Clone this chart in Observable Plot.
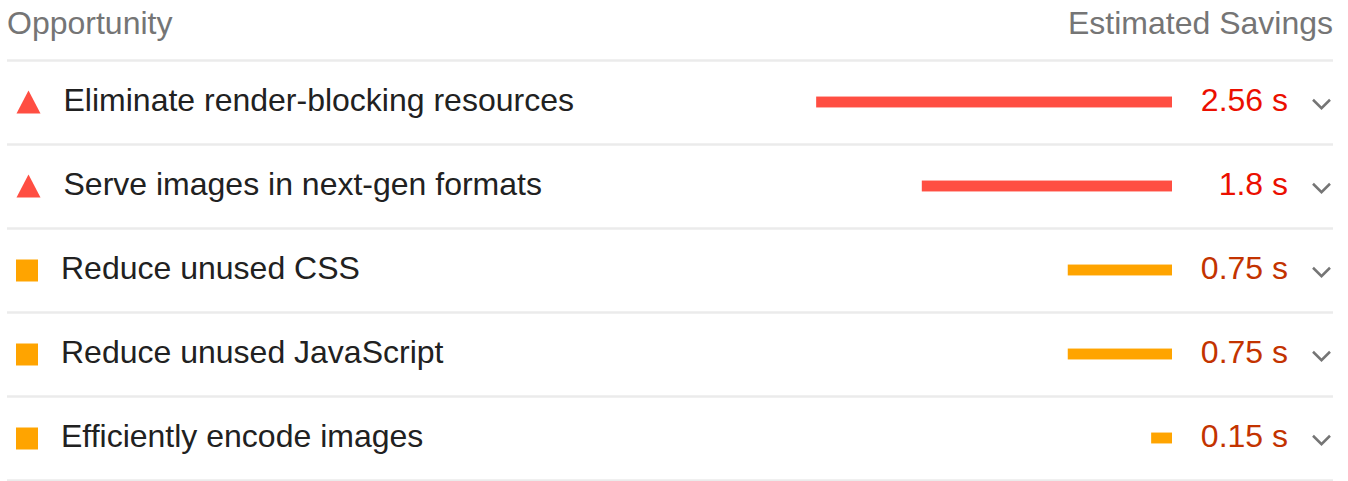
<!DOCTYPE html>
<html>
<head>
<meta charset="utf-8">
<script src="https://cdn.jsdelivr.net/npm/d3@7"></script>
<script src="https://cdn.jsdelivr.net/npm/@observablehq/plot@0.6"></script>
<style>
  html, body { margin: 0; padding: 0; background: #fff; }
  body { width: 1348px; height: 481px; overflow: hidden; font-family: "Liberation Sans", Arial, Helvetica, sans-serif; }
  #header { position: relative; height: 59px; width: 1348px; }
  #header span { position: absolute; top: 7px; font-size: 32px; line-height: 32px; color: #757575; white-space: nowrap; }
  #header .left { left: 7px; }
  #header .right { right: 15px; }
  #chart svg { display: block; }
</style>
</head>
<body>
<div id="header">
  <span class="left" id="hLeft"></span>
  <span class="right" id="hRight"></span>
</div>
<div id="chart"></div>
<script>
// ---- data ----
const headerLabels = ["Opportunity", "Estimated Savings"];
const audits = [
  "Eliminate render-blocking resources",
  "Serve images in next-gen formats",
  "Reduce unused CSS",
  "Reduce unused JavaScript",
  "Efficiently encode images"
];
const savings = [2.56, 1.8, 0.75, 0.75, 0.15]; // seconds
const ratings = ["fail", "fail", "average", "average", "average"];
const unit = "s";

// ---- styles ----
const barColor = {fail: "#ff4e42", average: "#ffa400"};
const textColor = {fail: "#eb0f00", average: "#c33300"};
const font = '"Liberation Sans", Arial, Helvetica, sans-serif';

document.getElementById("hLeft").textContent = headerLabels[0];
document.getElementById("hRight").textContent = headerLabels[1];

const rows = audits.map((a, i) => ({audit: a, value: savings[i], rating: ratings[i]}));
const failRows = rows.filter(d => d.rating === "fail");
const avgRows = rows.filter(d => d.rating === "average");

// custom symbols
const triangleSym = {draw(ctx, size) {
  const s = Math.sqrt(size / Math.PI);
  ctx.moveTo(0, -s * 0.96);
  ctx.lineTo(s, s * 0.96);
  ctx.lineTo(-s, s * 0.96);
  ctx.closePath();
}};
const squareSym = {draw(ctx, size) {
  const s = Math.sqrt(size / Math.PI) - 1;
  ctx.rect(-s, -s, 2 * s, 2 * s);
}};
const chevronSym = {draw(ctx, size) {
  const s = Math.sqrt(size / Math.PI);
  ctx.moveTo(-s, -s * 0.5);
  ctx.lineTo(0, s * 0.5);
  ctx.lineTo(s, -s * 0.5);
}};

const H = 422;
const yRange = [0.5, 421];
const bw = (yRange[1] - yRange[0]) / audits.length;

const plot = Plot.plot({
  width: 1348,
  height: H,
  marginLeft: 7,
  marginRight: 15,
  marginTop: 0,
  marginBottom: 0,
  style: {fontFamily: font, background: "#fff"},
  x: {type: "linear", domain: [0, d3.max(savings)], range: [1172, 1172 - 139 * d3.max(savings)], axis: null},
  y: {type: "band", domain: audits, range: yRange, padding: 0, axis: null},
  marks: [
    // separators
    Plot.ruleY([audits[0]], {y: d => d, dy: -bw / 2, stroke: "#ebebeb", strokeWidth: 2.5}),
    Plot.ruleY(audits, {y: d => d, dy: bw / 2, stroke: "#ebebeb", strokeWidth: 2.5}),
    // icons
    Plot.dot(failRows, {
      y: "audit", frameAnchor: "left", dx: 21, dy: -0.5, r: 12, symbol: triangleSym,
      fill: d => barColor[d.rating], stroke: "none"
    }),
    Plot.dot(avgRows, {
      y: "audit", frameAnchor: "left", dx: 19.5, r: 12, symbol: squareSym,
      fill: d => barColor[d.rating], stroke: "none"
    }),
    // audit labels
    Plot.text(failRows, {
      y: "audit", text: "audit", frameAnchor: "left", textAnchor: "start",
      dx: 56, dy: -1.5, fontSize: 32, fill: "#212121"
    }),
    Plot.text(avgRows, {
      y: "audit", text: "audit", frameAnchor: "left", textAnchor: "start",
      dx: 53.5, dy: -1.5, fontSize: 32, fill: "#212121"
    }),
    // bars
    Plot.rectX(rows, {
      x1: 0, x2: "value", y: "audit",
      insetTop: (bw - 11) / 2, insetBottom: (bw - 11) / 2,
      fill: d => barColor[d.rating]
    }),
    // values
    Plot.text(rows, {
      y: "audit", text: d => `${d.value} ${unit}`, frameAnchor: "right", textAnchor: "end",
      dx: -45.5, dy: -1.5, fontSize: 32, fill: d => textColor[d.rating]
    }),
    // chevrons
    Plot.dot(rows, {
      y: "audit", frameAnchor: "right", dx: -12, dy: 1.5, r: 8.5, symbol: chevronSym,
      fill: "none", stroke: "#757575", strokeWidth: 2.5
    })
  ]
});

document.getElementById("chart").appendChild(plot);
</script>
</body>
</html>
